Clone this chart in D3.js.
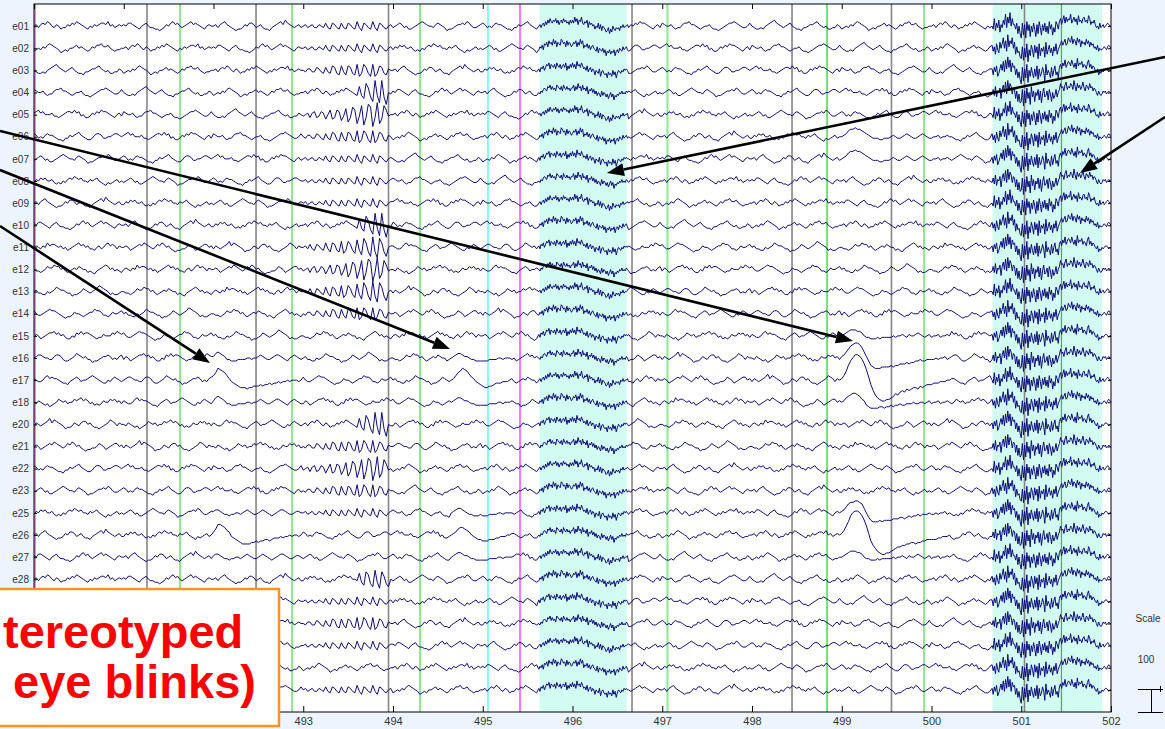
<!DOCTYPE html>
<html>
<head>
<meta charset="utf-8">
<script src="https://cdn.jsdelivr.net/npm/d3@7"></script>
<style>
body { margin: 0; background: #ecf4fd; }
svg { display: block; font-family: "Liberation Sans", Arial, sans-serif; }
</style>
</head>
<body>
<div id="chart"></div>
<script>
// channel labels, top to bottom (the last rows sit under the note box, their names are not readable)
var channelNames = ["e01","e02","e03","e04","e05","e06","e07","e08","e09","e10","e11","e12","e13","e14","e15",
    "e16","e17","e18","e20","e21","e22","e23","e25","e26","e27","e28","","","","",""];

var timeTicks = [490, 491, 492, 493, 494, 495, 496, 497, 498, 499, 500, 501, 502];
var timeLabels = ["", "", "", "493", "494", "495", "496", "497", "498", "499", "500", "501", "502"];

// event markers (seconds) and their type
var eventTimes = [490.011, 491.259, 491.627, 492.474, 492.875, 493.950, 494.301, 495.058, 495.415,
    496.663, 497.058, 498.446, 498.836, 499.554, 499.916, 501.036, 501.448];
var eventTypes = ["magenta","gray","lightgreen","gray","lightgreen","gray","lightgreen","cyan","magenta",
    "gray","lightgreen","gray","green","gray","lightgreen","gray","green"];

// marked (rejected) windows
var rejectStart = [495.632, 500.680];
var rejectEnd = [496.604, 501.900];

// samples: one char per 1/40 s (fastBlocks: 1/80 s), level '0'..'z', 'i' = 0, one level = 6.5 uV
var bgBlocks = {
    b1: "ijhjkjlkihjighhjikjlkjihgihjijkkjlijhiji",
    b2: "hjikjkiijhghgihjkjlkjkiihjijkihgfhghijhi",
    b3: "jkljkiiijhhghijkkjljkhigghjikjlkkjihgijh",
    b4: "ghihjiklkjihfghgiijkijihghjikkljjkihghhi",
    b5: "ijhjkljihgfgghjikkjhijhggfhijkljmkjihijh",
    b6: "kjhihjkjjihggfhhjijkljihgghjkkjhhiijkkji",
    b7: "ihgghgijklmkjihijkihggfhhijjkljihigghhji",
    b8: "jikkjihgijkihhggfghjikljkihijkljkjihgiji",
    b9: "hijkjhigghijklkjiihjkjihfgghijjkjlkihhij",
    b10: "kjiijhghhjkkljjihghiijhggfghijkklkjihhik"
};

var alphaBlocks = {
    AS: "ijhkhgkjhglhflkgfmegmkgengdolfcpfbolfcij",
    AS2: "hijgjkghkjfilfglkehmdgnlchobgpnagqcfolhi",
    AM: "ihjjhhkjhgkhglkgflhflkgfmegmkgemeglkgfji",
    AL: "ijhjkjlkihjighhjikjlkjihgmgeolfcqgbqfaih",
    AL2: "hjikjkiijhghgihjkjlkjkiihmgenlfdogcnkfdi",
    AW: "ijhijhhjihkhgkjhgkhgkjhglhfkjhglhfkjhgij"
};

var blinkBlocks = {
    B1a: "lnqponljhgfedddcddeeefeffgfgghghhihiiihi",
    B1b: "kmpponlkhgfedccccddedeeffefggghghhihiihi",
    B1c: "jlmlkjhhggghhhhiihiijkjihhijkkjihgijkjih",
    B1d: "jkkjihhghhiihijkjihhijkjihghijkkjihhijji",
    B2a: "ijlnoqpomkjhgf",
    B2b: "ijkmnnmlkihgff",
    B2c: "ijkllkjjihhggg",
    B2d: "ijkllkjihhgggh",
    R2a: "eddeefggghhhi",
    R2b: "eeefffgghhhii",
    R2c: "ggghhhhiihiii",
    B3a: "jlosvxzzy" + "wtpkfb865445" + "56798abacbcddcedeff",
    B3b: "jlorvxyyx" + "vsojeb976556" + "6789aabbccddcddeeff",
    B3c: "jkmoqrssr" + "pmjgdcbbbccc" + "cdcddeeefeffgghgghh",
    B3d: "ijlmnoonm" + "kjgfeeeeffef" + "fgfgghgghhhihhiihij",
    B3e: "jkmoppqqp" + "olifdcccdcdd" + "ddeeeffefgfgghghhhi",
    B3f: "ijklmmmll" + "kihhggghghhh" + "hhihiijihjiijkjihij",
    B3g: "ijkmnnonn" + "mlkjihhhgghh" + "hijihhijkjihhijkjih",
    R3a: "fggghhhii",
    R3b: "fffgghhhi",
    R3c: "hhihiijhi",
    R3d: "hiijhiiji"
};

var fastBlocks = {
    M1a1: "ijhjkiljmknlkmlnkmjlmknlmkljmk",
    M1a2: "hjikhlkmjnlmkolnjmlkonlmjnkmlj",
    M1a3: "jhkjlikmlnjmlkmjnlkmjlmkniljmk",
    M1a4: "ihjiklkjmlnkmkljnmlkmjnlkmkljl",
    M1b1: "lnjmkolmjnkljmhkjlikhjgihfjgihfhegifhdgfhgihjhihji",
    M1b2: "mkolnjmlokjlkmhljkijgihkgjfihgefhdgeigfhghfihjhiij",
    M1b3: "kmlnjmkolnikjlikhjkihgjfihgifhdgfhegfhdghfihgjhijh",
    M1b4: "nkmjolmknljkilhjkhjifihgjehigfgdhfgeifhdgihgihjiji",
    M2a1: "jfkhlegjmiohpjrkphnklfjdhc",
    M2a2: "hkgmfjilekniphqjomhlkejchb",
    M2a3: "ignfkhmejhmjqhokrinjjgkdid",
    M2a4: "kgjelhfmilpingrjnlpimejfgc",
    M2b1: "bjaicl9hdk" + "hckfjbldigjcmehkfidjgleh" + "jlnkmoklpnmqlonkpmojnlmkolnjmkli" + "jhkgih" + "hijihjkj",
    M2b2: "9kbjdmaiek" + "gdjelcjegkhbmfigdkeilfhd" + "kmjnlpkmonlpmknjqlnmokmljnpkmjlk" + "ihjfhg" + "ihijjihi",
    M2b3: "ck9jbleiam" + "fjcigkdjbhlfgjdkhciegkfi" + "kolmjnpkmlonkqmjolnkmpljnmkolmjl" + "kigjhg" + "hjijhiji",
    M2b4: "akcjalfjbi" + "ekgbjdlhcjfkeidlgjcheljg" + "lnjmpkolnmqkmolnjplmknolmkpnjlkm" + "jhigkh" + "ijhijkji"
};

// per channel: one entry per second 490..501 plus the last sample at 502
// "~" = block read backwards, "/a/b" = chars a..b of the block
var channelSegments = [
    "b1 b8 b5 AW b9 b6/0/25+M1a1 M1b2+b3/25/40 b10 b7 b4 b1/0/27+M2a3 M2b4 end",
    "b4 b1 b8 AW b2 b9/0/25+M1a2 M1b3+b6/25/40 b3 b10 b7 b4/0/27+M2a4 M2b1 end",
    "b7 b4 b1 AM b5 b2/0/25+M1a3 M1b4+b9/25/40 b6 b3 b10 b7/0/27+M2a1 M2b2 end",
    "b10 b7 b4 AL b8 b5/0/25+M1a4 M1b1+b2/25/40 b9 b6 b3 b10/0/27+M2a2 M2b3 end",
    "b3 b10 b7 AS2 b1 b8/0/25+M1a1 M1b2+b5/25/40 b2 b9 b6 b3/0/27+M2a3 M2b4 end",
    "b6 b3 b10 AM b4 b1/0/25+M1a2 M1b3+b8/25/40 b5 b2 B3g R3d+b6/9/27+M2a4 M2b1 end",
    "b9 b6 b3 AW b7 b4/0/25+M1a3 M1b4+b1/25/40 b8 b5 B3g R3d+b9/9/27+M2a1 M2b2 end",
    "b2 b9 b6 AW b10 b7/0/25+M1a4 M1b1+b4/25/40 b1 b8 b5 b2/0/27+M2a2 M2b3 end",
    "b5 b2 b9 AW b3 b10/0/25+M1a1 M1b2+b7/25/40 b4 b1 b8 b5/0/27+M2a3 M2b4 end",
    "b8 b5 b2 AL b6 b3/0/25+M1a2 M1b3+b10/25/40 b7 b4 b1 b8/0/27+M2a4 M2b1 end",
    "~b1 ~b8 ~b5 AS ~b9 ~b6/0/25+M1a3 M1b4+~b3/25/40 ~b10 ~b7 ~b4 ~b1/0/27+M2a1 M2b2 end",
    "~b4 ~b1 ~b8 AS2 ~b2 ~b9/0/25+M1a4 M1b1+~b6/25/40 ~b3 ~b10 ~b7 ~b4/0/27+M2a2 M2b3 end",
    "~b7 ~b4 ~b1 AS ~b5 ~b2/0/25+M1a1 M1b2+~b9/25/40 ~b6 ~b3 ~b10 ~b7/0/27+M2a3 M2b4 end",
    "~b10 ~b7 ~b4 AM ~b8 ~b5/0/25+M1a2 M1b3+~b2/25/40 ~b9 ~b6 ~b3 ~b10/0/27+M2a4 M2b1 end",
    "~b3 ~b10 ~b7 ~b4 ~b1 ~b8/0/25+M1a3 M1b4+~b5/25/40 ~b2 ~b9 B3f R3d+~b3/9/27+M2a1 M2b2 end",
    "~b6 ~b3 B1c ~b7 ~b4/0/26+B2c R2c+~b1/13/25+M1a4 M1b1+~b8/25/40 ~b5 ~b2 B3c R3c+~b6/9/27+M2a2 M2b3 end",
    "~b9 ~b6 B1a ~b10 ~b7/0/26+B2a R2a+~b4/13/25+M1a1 M1b2+~b1/25/40 ~b8 ~b5 B3a R3a+~b9/9/27+M2a3 M2b4 end",
    "~b2 ~b9 B1c ~b3 ~b10/0/26+B2c R2c+~b7/13/25+M1a2 M1b3+~b4/25/40 ~b1 ~b8 B3d R3d+~b2/9/27+M2a4 M2b1 end",
    "~b5 ~b2 ~b9 AL ~b3 ~b10/0/25+M1a3 M1b4+~b7/25/40 ~b4 ~b1 ~b8 ~b5/0/27+M2a1 M2b2 end",
    "~b8 ~b5 ~b2 AM ~b6 ~b3/0/25+M1a4 M1b1+~b10/25/40 ~b7 ~b4 ~b1 ~b8/0/27+M2a2 M2b3 end",
    "b6 b3 b10 AS2 b4 b1/0/25+M1a1 M1b2+b8/25/40 b5 b2 b9 b6/0/27+M2a3 M2b4 end",
    "b9 b6 b3 AM b7 b4/0/25+M1a2 M1b3+b1/25/40 b8 b5 b2 b9/0/27+M2a4 M2b1 end",
    "b2 b9 B1d AW b10/0/26+B2d R2c+b7/13/25+M1a3 M1b4+b4/25/40 b1 b8 B3e R3c+b2/9/27+M2a1 M2b2 end",
    "b5 b2 B1b b6 b3/0/26+B2b R2b+b10/13/25+M1a4 M1b1+b7/25/40 b4 b1 B3b R3b+b5/9/27+M2a2 M2b3 end",
    "b8 b5 B1d b9 b6/0/26+B2c R2c+b3/13/25+M1a1 M1b2+b10/25/40 b7 b4 B3f R3d+b8/9/27+M2a3 M2b4 end",
    "b1 b8 b5 AL2 b9 b6/0/25+M1a2 M1b3+b3/25/40 b10 b7 b4 b1/0/27+M2a4 M2b1 end",
    "b4 b1 b8 AW b2 b9/0/25+M1a3 M1b4+b6/25/40 b3 b10 b7 b4/0/27+M2a1 M2b2 end",
    "b7 b4 b1 AM b5 b2/0/25+M1a4 M1b1+b9/25/40 b6 b3 b10 b7/0/27+M2a2 M2b3 end",
    "b10 b7 b4 AW b8 b5/0/25+M1a1 M1b2+b2/25/40 b9 b6 b3 b10/0/27+M2a3 M2b4 end",
    "b3 b10 b7 b4 b1 b8/0/25+M1a2 M1b3+b5/25/40 b2 b9 b6 b3/0/27+M2a4 M2b1 end",
    "b6 b3 b10 AW b4 b1/0/25+M1a3 M1b4+b8/25/40 b5 b2 b9 b6/0/27+M2a1 M2b2 end"
];

// annotation arrows: tail and tip in [seconds, row position]
var arrowFrom = [[489.621, 5.740], [489.621, 7.503], [489.621, 10.034], [502.602, 2.395], [502.602, 5.107]];
var arrowTo = [[499.125, 15.232], [494.635, 15.593], [491.961, 16.226], [496.384, 7.638], [501.655, 7.638]];

var noteLines = ["tereotyped", "eye blinks)"];
var scaleValue = 100;

var levels = "0123456789abcdefghijklmnopqrstuvwxyz";
var zeroLevel = 18, unitUv = 6.5, t0 = 490;

var lookup = Object.assign({ end: "i" }, bgBlocks, alphaBlocks, blinkBlocks, fastBlocks);

function piece(name){
    var rev = false;
    if(name[0] == "~"){ rev = true; name = name.slice(1); }
    var parts = name.split("/");
    var s = lookup[parts[0]];
    if(rev) s = s.split("").reverse().join("");
    if(parts.length == 3) s = s.slice(+parts[1], +parts[2]);
    return { s: s, w: fastBlocks[parts[0]] ? 0.5 : 1 };
}

var traces = channelSegments.map(function(spec){
    var pts = [];
    spec.split(" ").forEach(function(sec, k){
        var chars = [];
        sec.split("+").map(piece).forEach(function(p){
            for(var j = 0; j < p.s.length; j++) chars.push({ c: p.s[j], w: p.w });
        });
        var total = d3.sum(chars, function(c){ return c.w });
        var acc = 0;
        chars.forEach(function(c){
            pts.push({ t: t0 + k + acc / total, v: (levels.indexOf(c.c) - zeroLevel) * unitUv });
            acc += c.w;
        });
    });
    return pts;
});

var width = 1165, height = 729;
var plot = { left: 34, right: 1111, top: 4, bottom: 712 };

var svg = d3.select("#chart")
    .append("svg")
    .attr("width", width)
    .attr("height", height);

svg.append("rect")
    .attr("width", width)
    .attr("height", height)
    .style("fill", "#ecf4fd");

var x = d3.scaleLinear().domain([490, 502]).range([plot.left, plot.right]);
var y = d3.scaleLinear().domain([0, channelNames.length + 1]).range([plot.top, plot.bottom]);
var amp = d3.scaleLinear().domain([0, 100]).range([0, 23]);

svg.append("clipPath")
    .attr("id", "plotclip")
    .append("rect")
    .attr("x", plot.left)
    .attr("y", plot.top)
    .attr("width", plot.right - plot.left)
    .attr("height", plot.bottom - plot.top);

svg.append("rect")
    .attr("x", plot.left)
    .attr("y", plot.top)
    .attr("width", plot.right - plot.left)
    .attr("height", plot.bottom - plot.top)
    .style("fill", "#ffffff");

svg.selectAll(".reject")
    .data(rejectStart)
    .enter()
    .append("rect")
    .attr("class", "reject")
    .attr("x", function(d){ return x(d) })
    .attr("width", function(d, i){ return x(rejectEnd[i]) - x(d) })
    .attr("y", plot.top)
    .attr("height", plot.bottom - plot.top)
    .style("fill", "#d2fbf2");

var eventStyle = {
    gray: ["#858585", 1.6],
    lightgreen: ["#8ee88e", 2],
    green: ["#1fcc1f", 1.2],
    cyan: ["#8cf6fb", 2],
    magenta: ["#ff78ff", 2]
};

svg.selectAll(".event")
    .data(eventTimes)
    .enter()
    .append("line")
    .attr("class", "event")
    .attr("x1", function(d){ return x(d) })
    .attr("x2", function(d){ return x(d) })
    .attr("y1", plot.top)
    .attr("y2", plot.bottom)
    .style("stroke", function(d, i){ return eventStyle[eventTypes[i]][0] })
    .style("stroke-width", function(d, i){ return eventStyle[eventTypes[i]][1] });

var traceG = svg.append("g").attr("clip-path", "url(#plotclip)");

traceG.selectAll(".trace")
    .data(traces)
    .enter()
    .append("path")
    .attr("class", "trace")
    .attr("d", function(pts, i){
        var base = y(i + 1);
        return d3.line()
            .x(function(p){ return x(p.t) })
            .y(function(p){ return base - amp(p.v) })(pts);
    })
    .style("fill", "none")
    .style("stroke", "#0c0c7c")
    .style("stroke-width", 1);

// axes
var rowTicks = channelNames.map(function(d, i){ return i + 1 });

var xBottom = svg.append("g")
    .attr("transform", "translate(0," + plot.bottom + ")")
    .call(d3.axisBottom(x).tickValues(timeTicks).tickSize(-6).tickPadding(5)
        .tickFormat(function(d, i){ return timeLabels[i] }));
var xTop = svg.append("g")
    .attr("transform", "translate(0," + plot.top + ")")
    .call(d3.axisTop(x).tickValues(timeTicks).tickSize(-5).tickFormat(""));
var yLeft = svg.append("g")
    .attr("transform", "translate(" + plot.left + ",0)")
    .call(d3.axisLeft(y).tickValues(rowTicks).tickSize(-3).tickPadding(5)
        .tickFormat(function(d){ return channelNames[d - 1] }));
var yRight = svg.append("g")
    .attr("transform", "translate(" + plot.right + ",0)")
    .call(d3.axisRight(y).tickValues(rowTicks).tickSize(-3).tickFormat(""));

[xBottom, xTop, yLeft, yRight].forEach(function(g){
    g.select(".domain").remove();
    g.selectAll(".tick line").style("stroke", "#000");
    g.selectAll("text").style("fill", "#333").style("font-family", "'Liberation Sans', Arial, sans-serif");
});
xBottom.selectAll("text").style("font-size", "11px");
yLeft.selectAll("text").style("font-size", "10px");

svg.append("rect")
    .attr("x", plot.left)
    .attr("y", plot.top)
    .attr("width", plot.right - plot.left)
    .attr("height", plot.bottom - plot.top)
    .style("fill", "none")
    .style("stroke", "#000")
    .style("stroke-width", 1);

// arrows
var headLen = 17, headHalf = 6.5;
arrowFrom.forEach(function(a, i){
    var x1 = x(a[0]), y1 = y(a[1]);
    var x2 = x(arrowTo[i][0]), y2 = y(arrowTo[i][1]);
    var ang = Math.atan2(y2 - y1, x2 - x1);
    var bx = x2 - headLen * Math.cos(ang), by = y2 - headLen * Math.sin(ang);
    svg.append("line")
        .attr("x1", x1).attr("y1", y1)
        .attr("x2", bx).attr("y2", by)
        .style("stroke", "#000")
        .style("stroke-width", 2.6);
    svg.append("path")
        .attr("d", "M" + x2 + "," + y2 +
            "L" + (bx + headHalf * Math.sin(ang)) + "," + (by - headHalf * Math.cos(ang)) +
            "L" + (bx - headHalf * Math.sin(ang)) + "," + (by + headHalf * Math.cos(ang)) + "Z")
        .style("fill", "#000");
});

// note box
svg.append("rect")
    .attr("x", -4)
    .attr("y", 589)
    .attr("width", 283)
    .attr("height", 137)
    .style("fill", "#fff")
    .style("stroke", "#f7941d")
    .style("stroke-width", 2.5);

svg.selectAll(".note")
    .data(noteLines)
    .enter()
    .append("text")
    .attr("class", "note")
    .attr("x", function(d, i){ return i == 0 ? 3 : 13 })
    .attr("y", function(d, i){ return i == 0 ? 648 : 698 })
    .text(function(d){ return d })
    .style("font-family", "'Liberation Sans', Arial, sans-serif")
    .style("font-weight", "bold")
    .style("font-size", "47px")
    .style("fill", "#ff0000");

// scale legend
svg.append("text")
    .attr("x", 1148).attr("y", 622)
    .attr("text-anchor", "middle")
    .style("font-size", "10px").style("fill", "#333")
    .text("Scale");
svg.append("text")
    .attr("x", 1146).attr("y", 663)
    .attr("text-anchor", "middle")
    .style("font-size", "10px").style("fill", "#333")
    .text(scaleValue);

var barTop = plot.bottom - amp(scaleValue);
var scaleG = svg.append("g").style("stroke", "#000").style("stroke-width", 1);
scaleG.append("line").attr("x1", 1138).attr("x2", 1163).attr("y1", barTop + 0.5).attr("y2", barTop + 0.5);
scaleG.append("line").attr("x1", 1151.5).attr("x2", 1151.5).attr("y1", barTop).attr("y2", plot.bottom);
scaleG.append("line").attr("x1", 1138).attr("x2", 1163).attr("y1", plot.bottom + 0.5).attr("y2", plot.bottom + 0.5);
scaleG.append("line").attr("x1", 1160.5).attr("x2", 1160.5).attr("y1", barTop - 3).attr("y2", barTop + 3);
</script>
</body>
</html>
